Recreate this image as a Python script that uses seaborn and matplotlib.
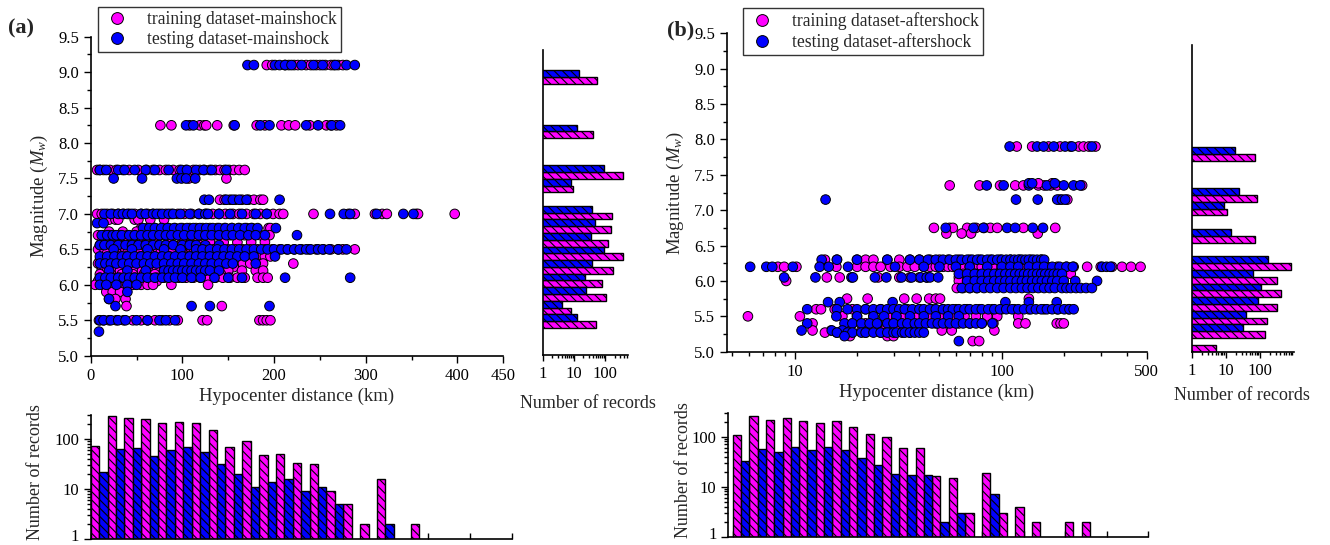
import numpy as np
import pandas as pd
import matplotlib
matplotlib.use('Agg')
import matplotlib.pyplot as plt
import seaborn as sns
from matplotlib.lines import Line2D
from matplotlib.ticker import FixedLocator, NullFormatter, FixedFormatter
from matplotlib.transforms import ScaledTranslation

MAGENTA = '#FF00FF'
BLUE = '#0000FF'

# ---------------- panel (a): mainshock scatter (magnitude, distances in km) ----------------
a_train_rows = [
    (9.1, [192, 198, 212, 216, 222, 226, 235, 240, 246, 250, 256, 262, 265, 270, 275]),
    (8.25, [76, 88, 108, 119, 124, 126, 138, 156, 181, 190, 208, 216, 223, 239, 257, 262, 268]),
    (7.62, [7, 10, 14, 21, 28, 35, 42, 52, 61, 68, 75, 82, 90, 97, 104, 112, 119, 124, 130, 136, 141, 146, 151, 156, 162, 168]),
    (7.5, [107, 148]),
    (7.2, [141, 146, 152, 158, 165, 172, 178, 185, 188]),
    (7.0, [7, 12, 18, 24, 30, 36, 42, 48, 55, 62, 68, 75, 82, 88, 95, 102, 110, 118, 126, 133, 140, 147, 155, 162, 170, 178, 185, 192, 199, 206, 210, 243, 281, 288, 310, 318, 323, 355, 357, 397]),
    (6.92, [15, 20, 27, 30, 48, 52, 65, 80]),
    (6.8, [55, 62, 70, 78, 85, 92, 100, 108, 115, 122, 130, 138, 146, 154, 162, 170, 176, 194, 196]),
    (6.75, [20, 35, 50, 65, 80, 95, 110, 125, 140, 155, 170]),
    (6.7, [8, 14, 20, 26, 32, 40, 48, 56, 64, 72, 80, 88, 96, 104, 112, 120, 128, 136, 144, 152, 160, 168, 176, 185, 195]),
    (6.6, [12, 25, 40, 55, 70, 85, 100, 115, 130, 145, 160, 175, 190]),
    (6.56, [10, 16, 22, 28, 35, 42, 50, 58, 66, 74, 82, 90, 98, 106, 113, 119]),
    (6.5, [8, 15, 22, 30, 38, 46, 54, 62, 70, 78, 86, 94, 102, 110, 118, 126, 134, 142, 150, 158, 166, 174, 182, 190, 198, 206, 214, 222, 230, 238, 246, 254, 262, 270, 275, 288]),
    (6.45, [18, 28, 40, 52, 64, 76, 88, 100, 112, 124, 136, 148, 160, 172, 184]),
    (6.4, [22, 30, 38, 46, 54, 62, 70, 78, 86, 94, 102, 110, 118, 126, 134, 142, 150, 158, 166, 174, 182, 190, 196]),
    (6.35, [10, 20, 32, 44, 56, 68, 80, 92, 104, 116, 128, 140, 152, 164]),
    (6.3, [8, 15, 22, 30, 38, 46, 54, 62, 70, 78, 86, 94, 102, 110, 118, 126, 134, 142, 150, 158, 166, 174, 182, 188, 221]),
    (6.25, [12, 24, 36, 48, 60, 72, 84, 96, 108, 120, 132, 144, 156]),
    (6.2, [12, 18, 25, 32, 40, 48, 56, 64, 72, 80, 88, 96, 104, 112, 120, 128, 136, 144, 150, 165, 180, 188]),
    (6.15, [10, 22, 34, 46, 58, 70, 82, 94, 106, 118, 130, 142]),
    (6.1, [10, 16, 24, 32, 40, 48, 56, 64, 72, 80, 88, 96, 104, 112, 120, 128, 136, 144, 152, 160, 168, 182, 188, 193]),
    (6.05, [8, 18, 28, 38, 48, 60, 72]),
    (6.0, [5, 14, 22, 30, 38, 46, 55, 62, 68, 88, 128]),
    (5.9, [17, 24, 32]),
    (5.8, [20, 27, 38]),
    (5.7, [39, 143]),
    (5.5, [9, 14, 20, 28, 36, 46, 55, 62, 70, 78, 86, 95, 122, 127, 184, 188, 192, 196]),
]
a_test_rows = [
    (9.1, [171, 178, 201, 206, 212, 219, 230, 243, 253, 267, 279, 288]),
    (8.25, [104, 112, 157, 185, 195, 235, 248, 263, 272]),
    (7.62, [10, 17, 30, 37, 48, 60, 70, 85, 99, 105, 115, 123, 132, 148]),
    (7.5, [25, 56, 94, 99, 104, 114]),
    (7.2, [124, 129, 148, 155, 162, 170, 206]),
    (7.0, [15, 22, 30, 35, 40, 45, 55, 60, 68, 72, 78, 85, 90, 98, 108, 118, 125, 128, 140, 152, 165, 180, 192, 261, 276, 283, 312, 341, 352]),
    (6.87, [7, 14]),
    (6.8, [57, 64, 70, 77, 84, 91, 98, 105, 112, 119, 126, 133, 140, 147, 154, 161, 168, 175, 182, 202]),
    (6.7, [12, 18, 24, 28, 34, 42, 48, 55, 62, 68, 75, 82, 88, 95, 102, 110, 118, 125, 132, 140, 148, 155, 163, 172, 180, 190, 225]),
    (6.56, [10, 15, 22, 30, 38, 45, 52, 60, 68, 75, 82, 90, 100, 108, 115, 125, 140]),
    (6.5, [25, 45, 62, 80, 98, 115, 122, 130, 138, 146, 154, 162, 170, 178, 186, 193, 200, 208, 215, 222, 228, 235, 240, 248, 253, 260, 270, 279]),
    (6.4, [10, 18, 26, 34, 40, 48, 55, 62, 70, 78, 85, 92, 100, 108, 115, 122, 130, 138, 145, 152, 160, 168, 178, 201]),
    (6.3, [10, 16, 22, 28, 35, 42, 50, 58, 65, 72, 80, 88, 95, 102, 110, 118, 125, 132, 140, 148, 155, 180]),
    (6.2, [20, 40, 60, 80, 85, 90, 95, 100, 105, 110, 115, 120, 125, 130, 140]),
    (6.1, [10, 16, 22, 30, 36, 42, 48, 55, 62, 70, 78, 85, 92, 100, 110, 120, 135, 150, 165, 212, 283]),
    (6.0, [10, 17, 28, 40, 50]),
    (5.9, [40]),
    (5.8, [20]),
    (5.7, [27, 110, 130, 195]),
    (5.5, [10, 14, 22, 30, 38, 50, 62, 75, 82, 92]),
    (5.34, [9]),
]

# ---------------- panel (b): aftershock scatter ----------------
b_train_rows = [
    (7.9, [118, 140, 168, 191, 214, 235, 248, 263, 283]),
    (7.35, [56, 78, 98, 116, 127, 150, 160, 172, 185, 244]),
    (7.38, [150, 175]),
    (7.15, [190, 207]),
    (6.75, [47, 56, 58, 68, 75, 82, 88, 95, 127, 181]),
    (6.67, [54, 64, 71, 149]),
    (6.3, [14, 16, 20, 22, 24, 28, 32, 36, 40, 45, 50, 55, 62, 70, 78, 88, 98, 110, 122, 138, 155]),
    (6.2, [8.3, 8.9, 10.2, 15.9, 20, 22, 24, 26, 29, 32, 35, 38, 42, 45, 48, 52, 55, 58, 62, 66, 70, 75, 80, 90, 100, 115, 130, 145, 165, 185, 205, 222, 258, 300, 340, 380, 420, 467]),
    (6.1, [65, 75, 85, 95, 120, 140, 160, 175, 215]),
    (6.05, [14.3, 16.5, 25.3, 32, 36, 40, 43.4, 62, 70, 80, 91, 158, 178]),
    (6.0, [9.1, 62, 68, 75, 82]),
    (5.9, [60.6, 65, 70, 75.5]),
    (5.75, [17.9, 22.5, 33.8, 38.8, 44.6, 48, 50.3, 135]),
    (5.6, [12.7, 13.4, 15.6, 19, 22, 26, 30, 35, 40, 46, 52, 60, 68, 78, 90, 100, 115, 135, 160, 185, 210]),
    (5.5, [5.95, 10.6, 17, 20, 24, 28, 33, 38, 44, 50, 58, 66, 75, 85, 95, 120]),
    (5.4, [12.2, 19, 22, 25, 28, 32, 36, 42, 48, 55, 62, 70, 80, 91, 120, 130, 184, 192, 199]),
    (5.3, [12.2, 15, 18, 21, 24, 27, 31, 35, 40, 51.3, 57.3, 92]),
    (5.27, [14, 16, 18, 22, 26, 30, 36]),
    (5.22, [18.5, 28, 30]),
    (5.15, [72.3, 77.7]),
]
b_test_rows = [
    (7.9, [109, 148, 159, 178, 202, 218, 272]),
    (7.35, [84.5, 102, 135, 165, 199, 222, 239]),
    (7.38, [135, 140, 180]),
    (7.15, [14.1, 117, 149, 185, 195, 202]),
    (6.75, [53.6, 73, 81.5, 106, 116, 141, 158]),
    (6.3, [13.5, 16, 20, 28, 36, 40, 44, 48, 52, 56, 60, 64, 68, 72, 76, 80, 85, 90, 95, 100, 105, 110, 115, 120, 125, 130, 135, 142, 148, 155, 160]),
    (6.2, [6.1, 7.3, 7.8, 9.8, 13.2, 14.6, 18.1, 30.5, 42, 50, 60, 70, 85, 100, 110, 120, 135, 148, 160, 175, 190, 205, 220, 305, 320, 334]),
    (6.1, [62, 68, 74, 80, 86, 92, 98, 104, 110, 116, 122, 128, 134, 141, 148, 155, 162, 170, 178, 186, 195]),
    (6.05, [8.9, 12.6, 18.8, 19.1, 24.4, 27.7, 32.8, 36.7, 40.6, 43.4, 45, 49.3]),
    (6.0, [68, 74, 80, 86, 92, 98, 104, 110, 118, 125, 132, 140, 148, 156, 165, 175, 185, 199, 226, 288]),
    (5.9, [64, 70, 76, 82, 88, 95, 102, 110, 117, 125, 133, 141, 150, 160, 170, 180, 195, 205, 215, 228, 240, 255, 272]),
    (5.7, [14.5, 16.5, 29.7, 104, 135, 184]),
    (5.6, [11.5, 16, 18, 20, 22, 24, 26, 28, 30, 32, 34, 37, 40, 42, 45, 48, 52, 55, 58, 62, 66, 70, 75, 80, 86, 92, 98, 105, 112, 120, 128, 138, 146, 155, 165, 175, 187, 200, 212, 222]),
    (5.5, [15.9, 20, 24, 27, 31, 36, 42, 48, 55, 62]),
    (5.4, [11.5, 17.4, 19, 21, 23, 25, 28, 30, 33, 35, 38, 40, 43, 46, 49, 52, 56, 60, 65, 70, 75, 80, 90]),
    (5.3, [10.8, 15.1, 17]),
    (5.27, [16, 18, 19, 21, 22, 24, 26, 28, 30, 31, 33, 34, 36, 38, 40, 42]),
    (5.22, [17.4]),
    (5.15, [62]),
]

# ---------------- histograms ----------------
# distance histograms: 25 bins of 20 km (counts, log axis)
a_dist_train = [72, 290, 260, 245, 210, 215, 205, 150, 70, 90, 48, 50, 33, 31, 9, 5, 2, 16, 0, 2, 0, 0, 0, 0, 0]
a_dist_test = [22, 62, 65, 46, 60, 68, 55, 32, 20, 11, 14, 16, 9, 11, 5, 0, 0, 2, 0, 0, 0, 0, 0, 0, 0]
b_dist_train = [110, 260, 215, 240, 208, 185, 205, 155, 115, 100, 58, 58, 16, 15, 3, 19, 3, 4, 2, 0, 2, 2, 0, 0, 0]
b_dist_test = [32, 57, 50, 63, 53, 61, 53, 37, 27, 18, 17, 17, 2, 3, 0, 7, 0, 0, 0, 0, 0, 0, 0, 0, 0]

# magnitude histograms: bins of 0.2 starting at 5.0
a_mag_edges = [5.0, 5.2, 5.4, 5.6, 5.8, 6.0, 6.2, 6.4, 6.6, 6.8, 7.0, 7.2, 7.4, 7.6, 7.8, 8.0, 8.2, 8.4, 8.6, 8.8, 9.0]
a_mag_train = [0, 0, 51, 8, 105, 82, 175, 361, 121, 158, 170, 0, 9, 370, 0, 0, 42, 0, 0, 0, 55]
a_mag_test = [0, 0, 13, 4, 25, 23, 37, 91, 36, 46, 38, 0, 8, 95, 0, 0, 13, 0, 0, 0, 15]
b_mag_edges = [5.0, 5.2, 5.4, 5.6, 5.8, 6.0, 6.2, 6.4, 6.6, 6.8, 7.0, 7.2, 7.4, 7.6, 7.8]
b_mag_train = [5, 140, 164, 324, 415, 316, 798, 0, 70, 0, 11, 82, 0, 0, 71]
b_mag_test = [0, 32, 39, 89, 110, 62, 176, 0, 14, 0, 9, 25, 0, 0, 18]

# ---------------- style ----------------
sns.set_theme(style='ticks')
plt.rcParams['font.family'] = ['Liberation Serif', 'DejaVu Serif']
plt.rcParams['mathtext.fontset'] = 'custom'
plt.rcParams['mathtext.rm'] = 'Liberation Serif'
plt.rcParams['mathtext.it'] = 'Liberation Serif:italic'
plt.rcParams['hatch.linewidth'] = 0.8
plt.rcParams['axes.linewidth'] = 1.2
plt.rcParams['axes.edgecolor'] = 'black'
plt.rcParams['xtick.color'] = 'black'
plt.rcParams['ytick.color'] = 'black'

TICK_FS = 12
LABEL_FS = 13.5

W, H = 1330, 545
fig = plt.figure(figsize=(W / 100, H / 100), dpi=100)


def px_axes(x0, y0, x1, y1):
    return fig.add_axes([x0 / W, 1 - y1 / H, (x1 - x0) / W, (y1 - y0) / H])


def rows_df(train_rows, test_rows):
    recs = []
    for m, ds in train_rows:
        recs += [(d, m, 'train') for d in ds]
    for m, ds in test_rows:
        recs += [(d, m, 'test') for d in ds]
    return pd.DataFrame(recs, columns=['dist', 'mag', 'set'])


def style_ticks(ax):
    ax.tick_params(which='both', direction='out', width=1.0, labelsize=TICK_FS)
    ax.tick_params(which='major', length=5)
    ax.tick_params(which='minor', length=3)


def scatter_panel(ax, train_rows, test_rows):
    df = rows_df(train_rows, test_rows)
    sns.scatterplot(data=df, x='dist', y='mag', hue='set',
                    palette={'train': MAGENTA, 'test': BLUE},
                    s=48, edgecolor='black', linewidth=0.7, legend=False, ax=ax)
    sns.despine(ax=ax)
    ax.set_ylim(5.0, 9.5)
    ax.yaxis.set_major_locator(FixedLocator(np.arange(5.0, 9.51, 0.5)))
    ax.yaxis.set_minor_locator(FixedLocator(np.arange(5.25, 9.5, 0.5)))
    ax.yaxis.set_major_formatter(FixedFormatter([f'{v:.1f}' for v in np.arange(5.0, 9.51, 0.5)]))
    ax.set_ylabel('Magnitude ($M_w$)', fontsize=LABEL_FS, labelpad=6)
    ax.set_xlabel('Hypocenter distance (km)', fontsize=LABEL_FS, labelpad=3)
    style_ticks(ax)


def dist_hist(ax, train, test, xmin):
    edges = np.arange(len(train)) * 20.0
    tr = np.asarray(train, float)
    te = np.asarray(test, float)
    mt = tr > 0
    me = te > 0
    ax.bar(edges[mt], tr[mt], width=10, align='edge', color=MAGENTA, edgecolor='black',
           linewidth=1.0, hatch='\\\\\\\\')
    ax.bar(edges[me] + 10, te[me], width=10, align='edge', color=BLUE, edgecolor='black',
           linewidth=1.0, hatch='\\\\\\\\')
    ax.set_yscale('log')
    ax.set_ylim(1, 300)
    ax.set_xlim(xmin, 500)
    sns.despine(ax=ax)
    ax.xaxis.set_major_locator(FixedLocator(np.arange(0, 501, 50)))
    ax.xaxis.set_minor_locator(FixedLocator([]))
    ax.set_xticklabels([])
    ax.yaxis.set_major_locator(FixedLocator([1, 10, 100]))
    ax.yaxis.set_major_formatter(FixedFormatter(['1', '10', '100']))
    ax.yaxis.set_minor_locator(FixedLocator([2, 3, 4, 5, 6, 7, 8, 9, 20, 30, 40, 50, 60, 70, 80, 90, 200, 300]))
    ax.yaxis.set_minor_formatter(NullFormatter())
    ax.tick_params(axis='y', which='both', direction='out', width=1.0, labelsize=TICK_FS)
    ax.tick_params(axis='y', which='major', length=5)
    ax.tick_params(axis='y', which='minor', length=3)
    ax.tick_params(axis='x', which='both', direction='in', length=4, width=1.0)
    # lift the bottom "1" label slightly so it stays inside the figure
    fig.canvas.draw()
    lab = ax.get_yticklabels()[0]
    lab.set_transform(lab.get_transform() + ScaledTranslation(0, 4 / 100, fig.dpi_scale_trans))


def mag_hist(ax, edges, train, test, xmax):
    e = np.asarray(edges, float)
    tr = np.asarray(train, float)
    te = np.asarray(test, float)
    mt = tr > 0
    me = te > 0
    ax.barh(e[mt], tr[mt], height=0.1, align='edge', color=MAGENTA, edgecolor='black',
            linewidth=1.0, hatch='\\\\\\\\')
    ax.barh(e[me] + 0.1, te[me], height=0.1, align='edge', color=BLUE, edgecolor='black',
            linewidth=1.0, hatch='\\\\\\\\')
    ax.set_xscale('log')
    ax.set_xlim(1, xmax)
    ax.set_ylim(5.0, 9.5)
    sns.despine(ax=ax)
    ax.set_yticks([])
    ax.xaxis.set_major_locator(FixedLocator([1, 10, 100]))
    ax.xaxis.set_major_formatter(FixedFormatter(['1', '10', '100']))
    minors = [v * d for d in (1, 10, 100) for v in range(2, 10) if v * d < xmax]
    ax.xaxis.set_minor_locator(FixedLocator(minors))
    ax.xaxis.set_minor_formatter(NullFormatter())
    ax.tick_params(axis='x', which='both', direction='out', width=1.0, labelsize=TICK_FS, pad=4)
    ax.tick_params(axis='x', which='major', length=4)
    ax.tick_params(axis='x', which='minor', length=2)


# ---------------- panel (a) ----------------
ax_a = px_axes(90.7, 36.7, 503.3, 355.7)
scatter_panel(ax_a, a_train_rows, a_test_rows)
ax_a.set_xlim(0, 450)
ax_a.xaxis.set_major_locator(FixedLocator([0, 100, 200, 300, 400, 450]))
ax_a.xaxis.set_minor_locator(FixedLocator([50, 150, 250, 350]))
ax_a.xaxis.set_major_formatter(FixedFormatter(['0', '100', '200', '300', '400', '450']))

ax_ar = px_axes(542.7, 50, 628.3, 355)
mag_hist(ax_ar, a_mag_edges, a_mag_train, a_mag_test, 550)

ax_ab = px_axes(90.7, 415, 511.7, 539.3)
dist_hist(ax_ab, a_dist_train, a_dist_test, 0)

# ---------------- panel (b) ----------------
ax_b = px_axes(726.7, 33.3, 1146.7, 351.7)
scatter_panel(ax_b, b_train_rows, b_test_rows)
ax_b.set_xscale('log')
ax_b.set_xlim(4.7, 500)
ax_b.xaxis.set_major_locator(FixedLocator([10, 100, 500]))
ax_b.xaxis.set_major_formatter(FixedFormatter(['10', '100', '500']))
ax_b.xaxis.set_minor_locator(FixedLocator([5, 6, 7, 8, 9, 20, 30, 40, 50, 60, 70, 80, 90, 200, 300, 400]))
ax_b.xaxis.set_minor_formatter(NullFormatter())

ax_br = px_axes(1191.7, 45, 1294, 351.7)
mag_hist(ax_br, b_mag_edges, b_mag_train, b_mag_test, 1000)

ax_bb = px_axes(728.3, 412.7, 1148.3, 536.7)
dist_hist(ax_bb, b_dist_train, b_dist_test, -5.2)

# ---------------- texts & legends ----------------
fig.text(8 / W, 1 - 28 / H, '(a)', fontsize=16, fontweight='bold', va='center', ha='left')
fig.text(667 / W, 1 - 30 / H, '(b)', fontsize=16, fontweight='bold', va='center', ha='left')
fig.text(588 / W, 1 - 403 / H, 'Number of records', fontsize=13, ha='center', va='center')
fig.text(1242 / W, 1 - 396 / H, 'Number of records', fontsize=13, ha='center', va='center')
fig.text(36 / W, 1 - 472 / H, 'Number of records', fontsize=13, ha='center', va='center', rotation=90)
fig.text(683 / W, 1 - 470 / H, 'Number of records', fontsize=13, ha='center', va='center', rotation=90)


def add_legend(x0, y0, labels):
    handles = [Line2D([], [], ls='none', marker='o', markersize=8.5, markerfacecolor=c,
                      markeredgecolor='black', markeredgewidth=0.7) for c in (MAGENTA, BLUE)]
    leg = fig.legend(handles, labels, loc='upper left', bbox_to_anchor=(x0 / W, 1 - y0 / H),
                     frameon=True, fancybox=False, shadow=False, fontsize=12.7,
                     borderpad=0.25, labelspacing=0.15, handlelength=1.6, handletextpad=0.9,
                     borderaxespad=0)
    leg.get_frame().set_edgecolor('black')
    leg.get_frame().set_linewidth(1.0)
    return leg


add_legend(98, 7, ['training dataset-mainshock', 'testing dataset-mainshock'])
add_legend(743, 8, ['training dataset-aftershock', 'testing dataset-aftershock'])

fig.savefig('out.png', dpi=100)
